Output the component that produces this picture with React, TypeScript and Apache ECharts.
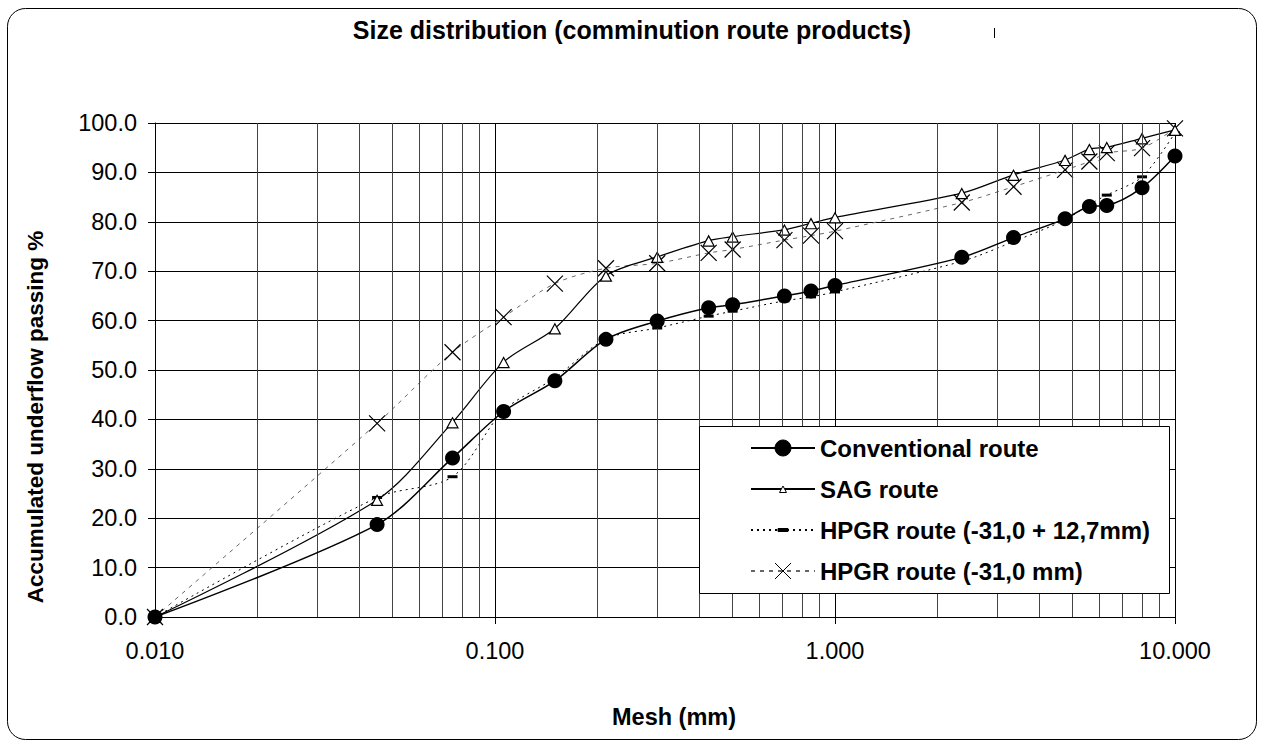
import React, { useEffect, useRef } from "react";
import * as echarts from "echarts";

// ---- data ----
const meshMm = [0.01, 0.045, 0.075, 0.106, 0.15, 0.212, 0.3, 0.425, 0.5, 0.71, 0.85, 1.0, 2.36, 3.35, 4.75, 5.6, 6.3, 8.0, 10.0];
const conventional = [0, 18.7, 32.2, 41.6, 47.8, 56.2, 59.9, 62.6, 63.2, 65.0, 66.0, 67.1, 72.8, 76.8, 80.6, 83.1, 83.3, 86.9, 93.3];
const sagRoute = [0, 23.7, 39.4, 51.6, 58.4, 69.1, 72.9, 76.2, 77.0, 78.4, 79.7, 80.9, 85.8, 89.5, 92.5, 94.7, 95.1, 96.9, 98.6];
const hpgrCoarse = [0, 24.2, 28.4, 41.8, 48.4, 56.3, 58.5, 60.9, 61.9, 64.0, 64.8, 65.8, 72.0, 76.0, 80.4, 83.5, 85.4, 89.1, 98.0];
const hpgrFull = [0, 39.2, 53.6, 60.7, 67.5, 70.6, 71.6, 73.7, 74.4, 76.3, 77.2, 78.1, 83.9, 87.1, 90.5, 92.2, 93.9, 94.9, 98.9];
const seriesNames = ["Conventional route", "SAG route", "HPGR route (-31,0 + 12,7mm)", "HPGR route (-31,0 mm)"];
const minorGridMm = [0.02, 0.03, 0.04, 0.05, 0.06, 0.07, 0.08, 0.09, 0.2, 0.3, 0.4, 0.5, 0.6, 0.7, 0.8, 0.9, 2, 3, 4, 5, 6, 7, 8, 9];
const titleText = "Size distribution (comminution route products)";
const xAxisTitle = "Mesh (mm)";
const yAxisTitle = "Accumulated underflow passing %";

const FONT = "'Liberation Sans', Arial, Helvetica, sans-serif";

const pairs = (ys: number[]) => meshMm.map((x, i) => [x, ys[i]]);

export default function App() {
  const ref = useRef<HTMLDivElement>(null);
  useEffect(() => {
    if (!ref.current) return;
    const chart = echarts.init(ref.current, null, { renderer: "svg" });
    const triPath = "path://M0,0M16,16M4.5,11.5L8,5L11.5,11.5Z";
    const dashPath = "path://M0,0M16,16M3,6.5L13,6.5L13,9.5L3,9.5Z";
    const crossPath = "path://M0,0L16,16M16,0L0,16";
    const option: any = {
      animation: false,
      backgroundColor: "#fff",
      textStyle: { fontFamily: FONT },
      title: {
        text: titleText,
        left: "center",
        top: 12,
        textStyle: { fontFamily: FONT, fontSize: 25, fontWeight: "bold", color: "#000" },
      },
      grid: { left: 155, right: 89, top: 123, bottom: 125, containLabel: false },
      xAxis: {
        type: "log",
        logBase: 10,
        min: 0.01,
        max: 10,
        axisLine: { show: true, onZero: false, lineStyle: { color: "#000", width: 1 } },
        axisTick: { show: true, inside: false, length: 7, lineStyle: { color: "#000" } },
        axisLabel: {
          formatter: (v: number) => v.toFixed(3),
          fontFamily: FONT,
          fontSize: 23.5,
          color: "#000",
          margin: 22,
        },
        splitLine: { show: true, lineStyle: { color: "#000", width: 1 } },
      },
      yAxis: {
        type: "value",
        min: 0,
        max: 100,
        interval: 10,
        axisLine: { show: true, lineStyle: { color: "#000", width: 1 } },
        axisTick: { show: true, inside: false, length: 7, lineStyle: { color: "#000" } },
        axisLabel: {
          formatter: (v: number) => v.toFixed(1),
          fontFamily: FONT,
          fontSize: 23.5,
          color: "#000",
          margin: 18,
        },
        splitLine: { show: true, lineStyle: { color: "#000", width: 1 } },
      },
      legend: {
        data: seriesNames,
        orient: "vertical",
        left: 750,
        top: 436,
        padding: 0,
        itemWidth: 64,
        itemHeight: 20,
        itemGap: 17,
        z: 10,
        textStyle: { fontFamily: FONT, fontSize: 24, fontWeight: "bold", color: "#000", lineHeight: 24 },
        itemStyle: { borderWidth: 1 },
      },
      graphic: [
        {
          type: "rect",
          z: 0,
          silent: true,
          shape: { x: 7.5, y: 8.5, width: 1249, height: 731, r: 18 },
          style: { fill: "none", stroke: "#000", lineWidth: 1 },
        },
        {
          type: "rect",
          z: 9,
          silent: true,
          shape: { x: 699.5, y: 426.5, width: 470, height: 167 },
          style: { fill: "#fff", stroke: "#000", lineWidth: 1 },
        },
        {
          type: "line",
          z: 9,
          silent: true,
          shape: { x1: 994.5, y1: 28, x2: 994.5, y2: 38 },
          style: { stroke: "#000", lineWidth: 1 },
        },
        {
          type: "text",
          z: 9,
          x: 35,
          y: 417,
          rotation: Math.PI / 2,
          style: {
            text: yAxisTitle,
            fontFamily: FONT,
            fontSize: 22.5,
            fontWeight: "bold",
            fill: "#000",
            align: "center",
            verticalAlign: "middle",
          },
        },
        {
          type: "text",
          z: 9,
          x: 674,
          y: 717,
          style: {
            text: xAxisTitle,
            fontFamily: FONT,
            fontSize: 23.5,
            fontWeight: "bold",
            fill: "#000",
            align: "center",
            verticalAlign: "middle",
          },
        },
      ],
      series: [
        {
          name: "minor-grid",
          type: "line",
          data: [],
          z: 1,
          silent: true,
          markLine: {
            silent: true,
            symbol: "none",
            label: { show: false },
            lineStyle: { color: "#444", type: "solid", width: 1 },
            data: minorGridMm.map((v) => ({ xAxis: v })),
          },
        },
        {
          name: seriesNames[3],
          type: "line",
          data: pairs(hpgrFull),
          smooth: 0.3,
          symbol: crossPath,
          symbolSize: 16,
          z: 3,
          lineStyle: { color: "#666", width: 1, type: [4, 5] },
          itemStyle: { color: "#000", borderColor: "#000", borderWidth: 1.2 },
        },
        {
          name: seriesNames[2],
          type: "line",
          data: pairs(hpgrCoarse),
          smooth: 0.3,
          symbol: dashPath,
          symbolSize: 16,
          z: 3,
          lineStyle: { color: "#000", width: 1, type: [2, 4] },
          itemStyle: { color: "#000", borderColor: "#000", borderWidth: 0 },
        },
        {
          name: seriesNames[1],
          type: "line",
          data: pairs(sagRoute),
          smooth: 0.3,
          symbol: triPath,
          symbolSize: 25,
          z: 4,
          lineStyle: { color: "#000", width: 1.2, type: "solid" },
          itemStyle: { color: "#fff", borderColor: "#000", borderWidth: 1.2 },
        },
        {
          name: seriesNames[0],
          type: "line",
          data: pairs(conventional),
          smooth: 0.3,
          symbol: "circle",
          symbolSize: 15,
          z: 5,
          lineStyle: { color: "#000", width: 1.5, type: "solid" },
          itemStyle: { color: "#000", borderColor: "#000", borderWidth: 0 },
        },
      ],
    };
    chart.setOption(option);
    return () => chart.dispose();
  }, []);
  return (
    <div
      ref={ref}
      style={{ position: "fixed", left: 0, top: 0, width: 1264, height: 742, background: "#fff" }}
    />
  );
}
